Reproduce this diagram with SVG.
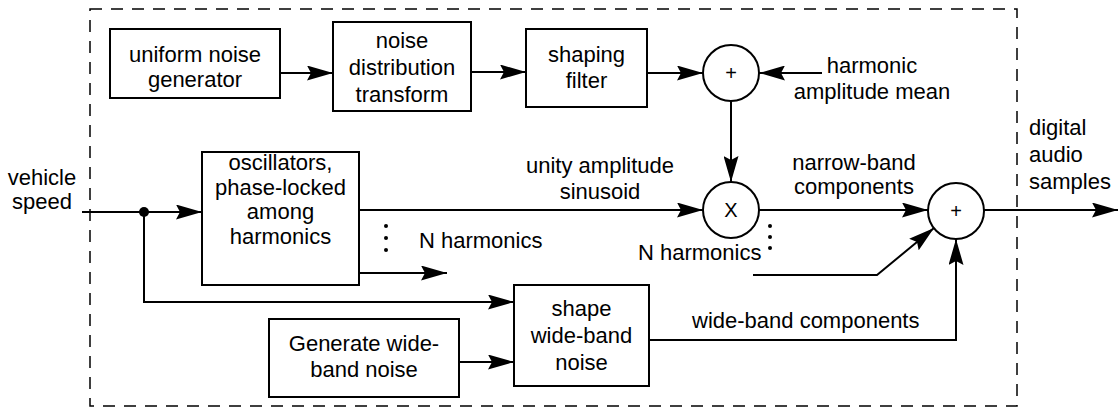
<svg xmlns="http://www.w3.org/2000/svg" width="1120" height="410" viewBox="0 0 1120 410">
<style>
.t{font-family:"Liberation Sans",Arial,sans-serif;font-size:22px;fill:#000;text-anchor:middle}
.s{text-anchor:start}
.box{fill:#fff;stroke:#000;stroke-width:2}
.c{fill:#fff;stroke:#000;stroke-width:2}
.w{fill:none;stroke:#000;stroke-width:2}
.sym{font-family:"Liberation Sans",Arial,sans-serif;font-size:20px;text-anchor:middle}
</style>
<defs>
<marker id="ah" markerUnits="userSpaceOnUse" markerWidth="26" markerHeight="15" refX="26" refY="7.5" orient="auto">
<path d="M0,0 L26,7.5 L0,15 L4,7.5 z" fill="#000"/>
</marker>
</defs>
<rect x="90" y="9" width="927" height="397" fill="none" stroke="#000" stroke-width="1.5" stroke-dasharray="12 9"/>
<g id="connectors">
<path class="w" d="M280,73 H333" marker-end="url(#ah)"/>
<path class="w" d="M471,72 H526" marker-end="url(#ah)"/>
<path class="w" d="M647,73 H703" marker-end="url(#ah)"/>
<path class="w" d="M822,73 H759" marker-end="url(#ah)"/>
<path class="w" d="M731,101 V182" marker-end="url(#ah)"/>
<path class="w" d="M82,212 H202" marker-end="url(#ah)"/>
<path class="w" d="M359,210 H703" marker-end="url(#ah)"/>
<path class="w" d="M359,273 H447" marker-end="url(#ah)"/>
<path class="w" d="M759,210 H928" marker-end="url(#ah)"/>
<path class="w" d="M753,275 H877 L934,228" marker-end="url(#ah)"/>
<path class="w" d="M984,210 H1118" marker-end="url(#ah)"/>
<path class="w" d="M144,212 V302 H514" marker-end="url(#ah)"/>
<path class="w" d="M459,362 H514" marker-end="url(#ah)"/>
<path class="w" d="M649,340 H956 V239" marker-end="url(#ah)"/>
<circle cx="144" cy="212" r="5" fill="#000"/>
</g>
<g id="n-uniform"><rect class="box" x="110" y="29" width="170" height="69"/><text class="t" x="195" y="62">uniform noise</text><text class="t" x="195" y="87">generator</text></g>
<g id="n-transform"><rect class="box" x="333" y="22" width="138" height="89"/><text class="t" x="402" y="48">noise</text><text class="t" x="402" y="75">distribution</text><text class="t" x="402" y="102">transform</text></g>
<g id="n-shaping"><rect class="box" x="526" y="29" width="121" height="78"/><text class="t" x="586.5" y="62">shaping</text><text class="t" x="586.5" y="88">filter</text></g>
<g id="n-sum1"><circle class="c" cx="731" cy="73" r="28"/><text class="sym" x="731" y="80">+</text></g>
<g id="n-mean"><text class="t" x="872" y="73">harmonic</text><text class="t" x="872" y="99">amplitude mean</text></g>
<g id="n-speed"><text class="t" x="42" y="185">vehicle</text><text class="t" x="42" y="209">speed</text></g>
<g id="n-osc"><rect class="box" x="202" y="152" width="157" height="133"/><text class="t" x="280.5" y="170">oscillators,</text><text class="t" x="280.5" y="195">phase-locked</text><text class="t" x="280.5" y="219">among</text><text class="t" x="280.5" y="244">harmonics</text>
<circle cx="386" cy="226" r="2"/><circle cx="386" cy="238" r="2"/><circle cx="386" cy="250" r="2"/>
<text class="t s" x="419" y="248">N harmonics</text></g>
<g id="n-unity"><text class="t" x="600" y="173">unity amplitude</text><text class="t" x="600" y="199">sinusoid</text></g>
<g id="n-mult"><circle class="c" cx="731" cy="210" r="28"/><text class="sym" x="731" y="217">X</text>
<text class="t s" x="638" y="260">N harmonics</text>
<circle cx="770" cy="226" r="2"/><circle cx="770" cy="237" r="2"/><circle cx="770" cy="248" r="2"/></g>
<g id="n-narrow"><text class="t" x="854" y="170">narrow-band</text><text class="t" x="854" y="194">components</text></g>
<g id="n-sum2"><circle class="c" cx="956" cy="211" r="28"/><text class="sym" x="956" y="218">+</text></g>
<g id="n-out"><text class="t s" x="1029" y="135">digital</text><text class="t s" x="1029" y="162">audio</text><text class="t s" x="1029" y="189">samples</text></g>
<g id="n-shape"><rect class="box" x="514" y="285" width="135" height="101"/><text class="t" x="581.5" y="316">shape</text><text class="t" x="581.5" y="343">wide-band</text><text class="t" x="581.5" y="370">noise</text></g>
<g id="n-gen"><rect class="box" x="269" y="319" width="190" height="78"/><text class="t" x="364" y="351">Generate wide-</text><text class="t" x="364" y="377">band noise</text></g>
<g id="n-wide"><text class="t s" x="692" y="328">wide-band components</text></g>
</svg>
